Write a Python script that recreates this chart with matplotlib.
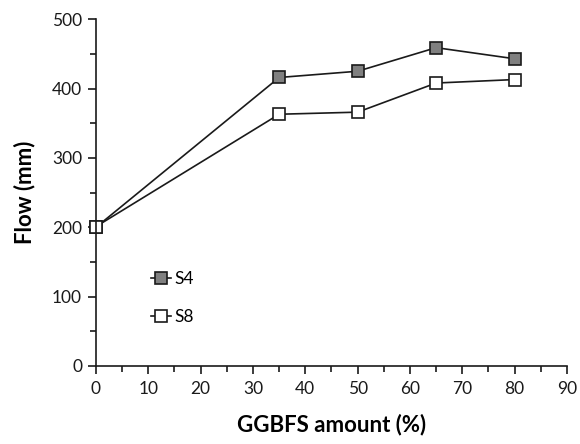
import matplotlib
matplotlib.use("Agg")
import matplotlib.pyplot as plt
from matplotlib.ticker import MultipleLocator

# data
ggbfs = [0, 35, 50, 65, 80]
flow_s4 = [200, 416, 425, 459, 443]
flow_s8 = [201, 363, 366, 408, 413]

plt.rcParams["font.family"] = ["Lato", "DejaVu Sans"]

fig = plt.figure(figsize=(5.8, 4.44), dpi=100)
ax = fig.add_axes([0.1655, 0.1757, 0.812, 0.781])

ax.plot(ggbfs, flow_s4, "-s", color="#1a1a1a", lw=1.2, ms=9,
        mfc="#808080", mec="#1a1a1a", mew=1.2, label="S4", clip_on=False)
ax.plot(ggbfs, flow_s8, "-s", color="#1a1a1a", lw=1.2, ms=9,
        mfc="white", mec="#1a1a1a", mew=1.2, label="S8", clip_on=False)

ax.set_xlim(0, 90)
ax.set_ylim(0, 500)
ax.xaxis.set_major_locator(MultipleLocator(10))
ax.xaxis.set_minor_locator(MultipleLocator(5))
ax.yaxis.set_major_locator(MultipleLocator(100))
ax.yaxis.set_minor_locator(MultipleLocator(50))

for s in ["top", "right"]:
    ax.spines[s].set_visible(False)
for s in ["left", "bottom"]:
    ax.spines[s].set_linewidth(1.2)
    ax.spines[s].set_color("#1a1a1a")

ax.tick_params(which="major", direction="out", length=6, width=1.2,
               labelsize=12.5, color="#1a1a1a", labelcolor="#1a1a1a", pad=5)
ax.tick_params(which="minor", direction="out", length=4, width=1.2,
               color="#1a1a1a")
ax.tick_params(axis="y", which="major", pad=4)

ax.set_xlabel("GGBFS amount (%)", fontsize=16, fontweight="bold", labelpad=12)
ax.set_ylabel("Flow (mm)", fontsize=16, fontweight="bold", labelpad=12)

ax.legend(loc="upper left", bbox_to_anchor=(0.103, 0.295), frameon=False,
          fontsize=12.5, handlelength=1.15, handletextpad=0.15,
          labelspacing=1.3, borderaxespad=0)

fig.savefig("out.png", dpi=100)
